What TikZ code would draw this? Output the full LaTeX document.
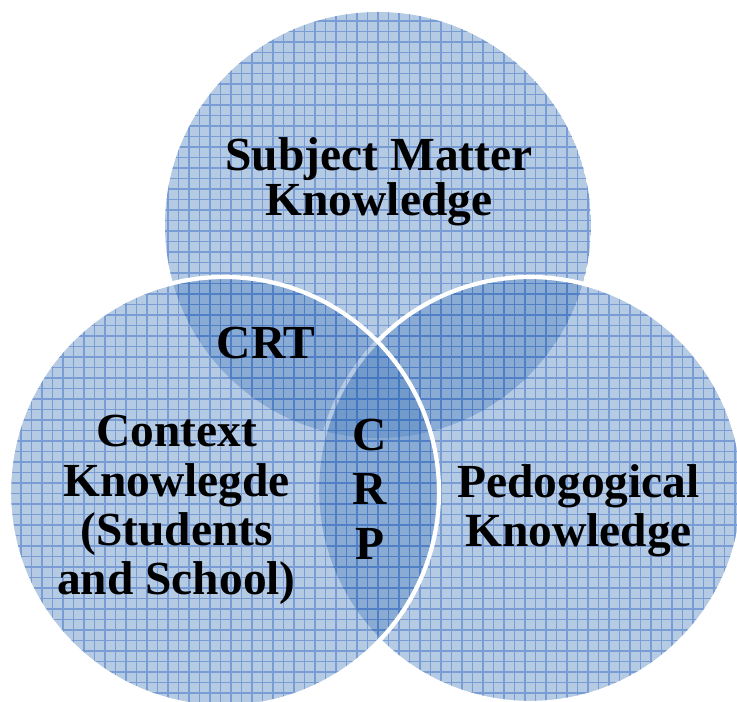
\documentclass[tikz,border=0pt]{standalone}
\usepackage{fontspec}
\setmainfont{Liberation Serif}
\usetikzlibrary{positioning,calc}

\definecolor{vennblue}{RGB}{79,129,189}
\definecolor{gridblue}{RGB}{60,110,195}

\begin{document}
\begin{tikzpicture}[
    disk/.style={fill=vennblue,fill opacity=0.42},
    gridlines/.style={gridblue,line width=0.6pt,opacity=0.5},
    rim/.style={white,line width=2.4pt},
    label/.style={align=center,inner sep=0pt,font=\fontsize{27}{28}\selectfont\bfseries}
  ]
    \useasboundingbox (0,0) rectangle (14.74,-14.04);

    % Three overlapping disks: top, right, left (left is drawn last)
    \foreach \cx/\cy/\r/\w in {7.56/-4.50/4.26/0pt, 10.60/-9.80/4.26/2.4pt, 4.48/-9.84/4.30/2.4pt} {
      \begin{scope}
        \clip (\cx,\cy) circle (\r);
        \fill[disk] (\cx,\cy) circle (\r);
        \draw[gridlines,step=0.21] (0,-14.1) grid (14.8,0);
      \end{scope}
      \ifdim\w>0pt
        \draw[rim] (\cx,\cy) circle (\r);
      \fi
    }

    % Labels
    \node[label,font=\fontsize{27}{23.5}\selectfont\bfseries] (smk) at (7.58,-3.63) {Subject Matter\\Knowledge};
    \node[label] (crt) at (5.32,-6.86) {CRT};
    \node[label] (ctx) at (3.53,-10.2) {Context\\Knowlegde\\(Students\\and School)};
    \node[label,font=\fontsize{27}{31}\selectfont\bfseries] (crp) at (7.40,-9.78) {C\\R\\P};
    \node[label] (ped) at (11.57,-10.22) {Pedogogical\\Knowledge};
\end{tikzpicture}
\end{document}
